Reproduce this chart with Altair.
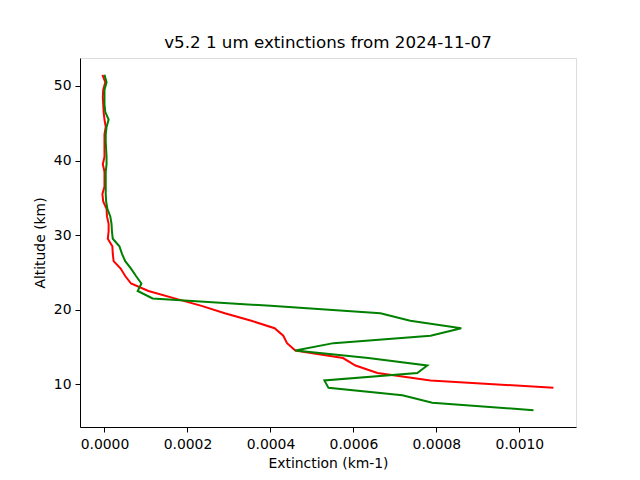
import altair as alt
import pandas as pd

red_alt = [51.5, 50.5, 49.5, 48.5, 47.5, 46.5, 45.5, 44.5, 43.5, 42.5, 41.5, 40.5,
           39.5, 38.5, 37.5, 36.5, 35.5, 34.5, 33.5, 32.5, 31.5, 30.5, 29.5, 28.5,
           27.5, 26.5, 25.5, 24.5, 23.5, 22.5, 21.5, 20.5, 19.5, 18.5, 17.5, 16.5,
           15.5, 14.5, 13.5, 12.5, 11.5, 10.5, 9.5]
red_ext_e6 = [-5, 2, -3, -4, -3, -2, 0, 3, 0, 0, 0, 0,
              -4, 0, 0, 0, -5, -3, 5, 6, 10, 10, 8, 19,
              20, 22, 39, 50, 64, 106, 169, 234, 290, 354, 410, 431,
              440, 460, 575, 605, 658, 786, 1082]

green_alt = [51.5, 50.5, 49.5, 48.5, 47.5, 46.5, 45.5, 44.5, 43.5, 42.5, 41.5, 40.5,
             39.5, 38.5, 37.5, 36.5, 35.5, 34.5, 33.5, 32.5, 31.5, 30.5, 29.5, 28.5,
             27.5, 26.5, 25.5, 24.5, 23.5, 22.5, 21.5, 20.5, 19.5, 18.5, 17.5, 16.5,
             15.5, 14.5, 13.5, 12.5, 11.5, 10.5, 9.5, 8.5, 7.5, 6.5]
green_ext_e6 = [0, 5, 0, 0, 0, 2, 10, 5, 3, 3, 4, 5,
                5, 3, 3, 3, 3, 4, 7, 14, 17, 18, 20, 36,
                42, 50, 64, 76, 89, 80, 116, 400, 665, 737, 860, 786,
                552, 460, 636, 778, 754, 530, 540, 718, 790, 1034]

rows = []
for a, v in zip(red_alt, red_ext_e6):
    rows.append({"series": "red", "alt": a, "ext": v * 1e-6})
for a, v in zip(green_alt, green_ext_e6):
    rows.append({"series": "green", "alt": a, "ext": v * 1e-6})
df = pd.DataFrame(rows)

x_ticks = [0.0, 0.0002, 0.0004, 0.0006, 0.0008, 0.0010]
y_ticks = [10, 20, 30, 40, 50]

font = "DejaVu Sans"

chart = alt.Chart(df).mark_line(strokeWidth=2, clip=True).encode(
    x=alt.X("ext:Q", scale=alt.Scale(domain=[-0.0000590, 0.0011365], nice=False, zero=False),
            axis=alt.Axis(values=x_ticks, format=".4f", title="Extinction (km-1)",
                          grid=False, tickSize=5, domainColor="black", tickColor="black",
                          labelColor="black", labelFontSize=13.9, labelFont=font,
                          titleFont=font, titleFontSize=13.9, titleFontWeight="normal",
                          titleColor="black", labelPadding=5, titlePadding=6, labelFlush=False)),
    y=alt.Y("alt:Q", scale=alt.Scale(domain=[4.25, 53.75], nice=False, zero=False),
            axis=alt.Axis(values=y_ticks, title="Altitude (km)",
                          grid=False, tickSize=5, domainColor="black", tickColor="black",
                          labelColor="black", labelFontSize=13.9, labelFont=font,
                          titleFont=font, titleFontSize=13.9, titleFontWeight="normal",
                          titleColor="black", labelPadding=4, titlePadding=6, labelFlush=False)),
    color=alt.Color("series:N", scale=alt.Scale(domain=["red", "green"], range=["red", "green"]),
                    legend=None),
    order=alt.Order("alt:Q"),
    detail="series:N",
).properties(
    width=496,
    height=369,
    title=alt.TitleParams("v5.2 1 um extinctions from 2024-11-07", font=font, fontSize=16.7,
                          fontWeight="normal", color="black", offset=6),
    autosize=alt.AutoSizeParams(type="none"),
    padding={"left": 80, "top": 58, "right": 64, "bottom": 53},
).configure_view(stroke="black", strokeWidth=1).configure(background="white")

chart.save("out.html", embed_options={"renderer": "svg", "actions": False})
